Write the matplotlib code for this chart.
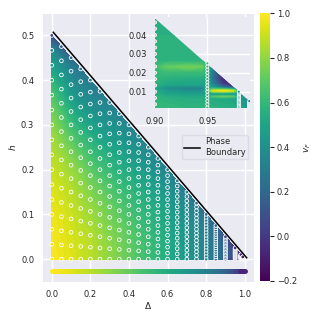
import numpy as np
import matplotlib
matplotlib.use("Agg")
import matplotlib.pyplot as plt
from matplotlib.collections import LineCollection
from matplotlib.patches import Polygon

W = 319
BG = "#EAEAF2"
plt.rcParams.update({"font.family": "DejaVu Sans", "font.size": 6, "text.color": "#262626",
                     "axes.labelcolor": "#262626", "xtick.color": "#262626", "ytick.color": "#262626"})

delta_columns = [0, .05, .1, .15, .2, .25, .3, .35, .4, .45, .5, .55, .6, .65, .7, .75, .8, .85, .9, .95, .98, .99]
h_max = [.5, .475, .45, .425, .4, .375, .35, .325, .3, .275, .25, .225, .2, .175, .15, .125, .1, .075, .05, .025, .01, .005]
row_fraction = [0, 1/15, 2/15, 3/15, 4/15, 5/15, 6/15, 7/15, 8/15, 9/15, 10/15, 11/15, 12/15, 13/15, 14/15, 1]
vf_table = [
    [1.0, .99, .98, .97, .95, .93, .90, .87, .84, .79, .74, .67, .58, .48, .38, .06],
    [.97, .96, .95, .94, .92, .90, .87, .84, .79, .74, .68, .61, .53, .45, .36, .15],
    [.94, .93, .92, .91, .89, .87, .84, .80, .75, .69, .62, .55, .47, .40, .33, .20],
    [.90, .90, .89, .87, .85, .83, .80, .76, .71, .65, .59, .52, .45, .39, .33, .25],
    [.87, .87, .86, .84, .82, .79, .76, .72, .67, .62, .57, .50, .44, .38, .33, .28],
    [.83, .83, .82, .80, .78, .76, .72, .69, .64, .60, .55, .49, .44, .39, .35, .30],
    [.79, .79, .78, .76, .74, .72, .69, .66, .62, .58, .54, .49, .44, .40, .36, .32],
    [.75, .75, .74, .73, .71, .69, .66, .63, .60, .56, .53, .49, .45, .41, .37, .33],
    [.71, .71, .70, .69, .67, .65, .63, .61, .58, .55, .52, .48, .45, .41, .37, .34],
    [.66, .66, .66, .65, .63, .62, .60, .58, .56, .53, .50, .47, .44, .41, .37, .34],
    [.62, .62, .62, .61, .60, .58, .57, .55, .53, .51, .49, .46, .43, .40, .37, .34],
    [.57, .57, .57, .57, .56, .55, .54, .53, .51, .49, .47, .45, .42, .39, .36, .33],
    [.53, .53, .53, .53, .52, .51, .50, .49, .48, .46, .45, .43, .41, .38, .35, .32],
    [.48, .48, .48, .48, .47, .47, .46, .45, .44, .43, .42, .40, .38, .36, .33, .30],
    [.43, .43, .43, .43, .42, .42, .42, .41, .40, .39, .38, .37, .35, .34, .31, .28],
    [.38, .38, .38, .38, .38, .37, .37, .37, .36, .35, .34, .33, .32, .31, .29, .26],
    [.32, .32, .32, .32, .32, .32, .31, .31, .31, .30, .30, .29, .28, .27, .26, .24],
    [.25, .25, .25, .25, .25, .25, .24, .24, .24, .24, .23, .23, .22, .22, .21, .18],
    [.14, .15, .15, .16, .16, .17, .17, .17, .16, .16, .15, .14, .13, .12, .11, .08],
    [-.02, 0, .02, .02, .04, .06, .08, .08, .08, .06, .05, .04, .03, .02, .01, -.02],
    [-.08, -.08, -.07, -.07, -.06, -.06, -.05, -.05, -.05, -.05, -.05, -.06, -.06, -.07, -.07, -.08],
    [-.12, -.12, -.11, -.11, -.10, -.10, -.10, -.10, -.10, -.10, -.10, -.10, -.10, -.11, -.11, -.12],
]

band_delta = [i * .025 for i in range(41)]
band_vf = [1.0, .99, .97, .96, .94, .92, .90, .89, .87, .85, .83, .81, .79, .77, .75, .73, .71, .69, .66, .64, .62,
           .60, .57, .55, .53, .51, .48, .46, .43, .41, .38, .35, .32, .29, .25, .21, .16, .10, .03, -.07, -.18]
band_h = -.026

boundary_delta = [.008, 1.01]
boundary_h = [.507, .003]

inset_delta = [.90, .91, .93, .945, .95, .955, .965, .975, .98, .985, .99]
inset_h = [.0012, .004, .0065, .0075, .0080, .0088, .0095, .0105, .0112, .0118, .0125, .014, .017, .0205, .0232,
           .0262, .03, .04, .05]
inset_vf = [
    [.60, .59, .58, .58, .58, .57, .56, .55, .50, .46, .42],
    [.60, .58, .56, .56, .56, .55, .54, .52, .47, .44, .40],
    [.58, .56, .54, .54, .54, .53, .52, .50, .45, .42, .38],
    [.57, .54, .52, .52, .54, .66, .72, .68, .48, .42, .38],
    [.57, .52, .50, .50, .50, .55, .58, .55, .44, .42, .38],
    [.56, .50, .47, .47, .46, .38, .35, .36, .40, .40, .36],
    [.55, .47, .44, .44, .50, .62, .65, .60, .44, .38, .34],
    [.54, .46, .40, .40, .58, .92, .98, .90, .50, .36, .32],
    [.52, .42, .36, .36, .54, .72, .74, .66, .42, .32, .30],
    [.50, .38, .30, .32, .50, .58, .50, .32, .24, .25, .25],
    [.52, .44, .38, .40, .48, .46, .22, .08, .12, .20, .20],
    [.56, .52, .50, .50, .48, .34, .02, -.10, -.10, .10, .10],
    [.58, .56, .54, .54, .50, .24, -.10, -.10, -.10, .10, .10],
    [.60, .62, .62, .62, .55, .28, -.05, -.10, -.10, .10, .10],
    [.62, .70, .74, .72, .60, .32, -.05, -.10, -.10, .10, .10],
    [.58, .58, .58, .58, .52, .32, .10, .10, .10, .10, .10],
    [.57, .57, .57, .57, .52, .40, .30, .30, .30, .30, .30],
    [.56, .56, .56, .56, .52, .40, .30, .30, .30, .30, .30],
    [.54, .54, .54, .54, .52, .40, .30, .30, .30, .30, .30],
]
inset_point_delta = [.90, .95, .98, .99]
inset_point_hmax = [.05, .025, .01, .005]
inset_point_vf = [.88, .60, .45, .30]


def box(l, t, r, b):
    return [l / W, 1 - b / W, (r - l) / W, (b - t) / W]


def style(ax):
    ax.set_facecolor(BG)
    ax.grid(True, color="white", lw=1.0)
    ax.set_axisbelow(True)
    for s in ax.spines.values():
        s.set_visible(False)
    ax.tick_params(length=0, pad=6)


fig = plt.figure(figsize=(W / 100, W / 100), dpi=100)
ax = fig.add_axes(box(42.5, 13.5, 254, 281.5))
style(ax)
norm = plt.Normalize(-.2, 1.0)

D, H, V = [], [], []
for d, hm, row in zip(delta_columns, h_max, vf_table):
    for f, v in zip(row_fraction, row):
        D.append(d); H.append(hm * f); V.append(v)
cf = ax.tricontourf(D, H, V, levels=np.linspace(-.2, 1.0, 61), cmap="viridis", norm=norm)
ax.scatter(D, H, c=V, cmap="viridis", norm=norm, s=7, edgecolors="white", linewidths=.6, zorder=3)

pts = np.column_stack([band_delta, [band_h] * len(band_delta)])
segs = np.stack([pts[:-1], pts[1:]], axis=1)
lc = LineCollection(segs, cmap="viridis", norm=norm, linewidths=3.6, capstyle="round", zorder=3)
lc.set_array(np.array(band_vf[:-1]))
ax.add_collection(lc)

line, = ax.plot(boundary_delta, boundary_h, color="black", lw=1.1, zorder=4, label="Phase\nBoundary")
ax.set_xlim(-.048, 1.048)
ax.set_ylim(-.05, .549)
ax.set_xticks([0, .2, .4, .6, .8, 1.0])
ax.set_yticks([0, .1, .2, .3, .4, .5])
ax.set_xlabel(r"$\Delta$", fontsize=6.5, labelpad=1)
ax.set_ylabel(r"$h$", fontsize=6.5, labelpad=2)
ax.legend(handles=[line], loc="upper left", bbox_to_anchor=(181.5 / W, 1 - 135 / W), bbox_transform=fig.transFigure,
          facecolor=BG, edgecolor="#D8D8E0", fontsize=6, framealpha=.8, borderaxespad=0, handlelength=1.9,
          handletextpad=.6, borderpad=.3, labelspacing=.2)

cax = fig.add_axes(box(260, 13.3, 269.7, 281))
cb = fig.colorbar(plt.cm.ScalarMappable(norm=norm, cmap="viridis"), cax=cax)
cb.set_ticks([-.2, 0, .2, .4, .6, .8, 1.0])
cb.ax.tick_params(length=3, width=.8, pad=2, color="#262626")
cb.outline.set_visible(False)
cb.set_label(r"$v_F$", fontsize=6.5, labelpad=4)

ins = fig.add_axes(box(155, 16.7, 250, 108.3))
style(ins)
cs = ins.contourf(inset_delta, inset_h, np.array(inset_vf), levels=np.linspace(-.2, 1.0, 61), cmap="viridis", norm=norm)
tri = Polygon([(.90, .0012), (.90, .0488), (.99, .005), (.99, .0012)], transform=ins.transData)
cs.set_clip_path(tri)
pd_, ph_, pv_ = [], [], []
for d, hm, v in zip(inset_point_delta, inset_point_hmax, inset_point_vf):
    for f in row_fraction:
        pd_.append(d); ph_.append(hm * f); pv_.append(v)
ins.scatter(pd_, ph_, c=pv_, cmap="viridis", norm=norm, s=5, edgecolors="white", linewidths=.6, zorder=3, clip_on=True)
ins.set_xlim(.90, .9907)
ins.set_ylim(.0012, .0497)
ins.set_xticks([.90, .95])
ins.set_xticklabels(["0.90", "0.95"])
ins.set_yticks([.01, .02, .03, .04])
fig.savefig("out.png", dpi=100)
